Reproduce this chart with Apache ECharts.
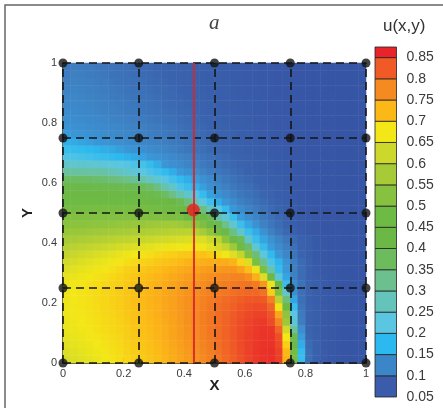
<!DOCTYPE html>
<html>
<head>
<meta charset="utf-8">
<script src="https://cdn.jsdelivr.net/npm/echarts@6/dist/echarts.min.js"></script>
<style>html,body{margin:0;padding:0;background:#fff;}#c{width:443px;height:408px;}</style>
</head>
<body>
<div id="c"></div>
<script>
// cell centres of the contour field (x and y), step 0.025
const xCenters = [0.0125,0.0375,0.0625,0.0875,0.1125,0.1375,0.1625,0.1875,0.2125,0.2375,0.2625,0.2875,0.3125,0.3375,0.3625,0.3875,0.4125,0.4375,0.4625,0.4875,0.5125,0.5375,0.5625,0.5875,0.6125,0.6375,0.6625,0.6875,0.7125,0.7375,0.7625,0.7875,0.8125,0.8375,0.8625,0.8875,0.9125,0.9375,0.9625,0.9875];
const yCenters = xCenters.slice();
// u(x,y), one row per y centre (bottom to top)
const uRows = [
 [0.637,0.644,0.651,0.658,0.665,0.672,0.679,0.686,0.693,0.699,0.705,0.712,0.719,0.728,0.737,0.746,0.755,0.765,0.775,0.785,0.796,0.809,0.821,0.834,0.845,0.855,0.861,0.864,0.85,0.73,0.495,0.19,0.11,0.097,0.088,0.083,0.08,0.077,0.074,0.071],
 [0.646,0.652,0.658,0.664,0.67,0.676,0.682,0.688,0.696,0.702,0.708,0.715,0.722,0.731,0.74,0.749,0.758,0.768,0.778,0.788,0.799,0.812,0.824,0.837,0.848,0.857,0.862,0.864,0.848,0.725,0.49,0.185,0.11,0.097,0.088,0.083,0.08,0.077,0.074,0.071],
 [0.651,0.657,0.663,0.668,0.674,0.68,0.685,0.691,0.699,0.705,0.711,0.718,0.725,0.734,0.743,0.752,0.761,0.771,0.781,0.791,0.802,0.814,0.826,0.838,0.849,0.857,0.861,0.862,0.842,0.70,0.44,0.167,0.107,0.096,0.087,0.083,0.08,0.077,0.074,0.071],
 [0.658,0.663,0.668,0.673,0.679,0.684,0.689,0.694,0.702,0.708,0.714,0.721,0.728,0.737,0.746,0.755,0.764,0.774,0.784,0.794,0.805,0.816,0.828,0.839,0.849,0.856,0.86,0.86,0.835,0.675,0.41,0.152,0.102,0.095,0.087,0.083,0.08,0.077,0.074,0.071],
 [0.663,0.668,0.673,0.677,0.682,0.687,0.691,0.696,0.704,0.71,0.716,0.723,0.73,0.738,0.747,0.755,0.765,0.775,0.785,0.795,0.805,0.816,0.827,0.838,0.847,0.854,0.858,0.857,0.815,0.63,0.31,0.14,0.10,0.093,0.087,0.083,0.08,0.077,0.074,0.071],
 [0.665,0.67,0.675,0.679,0.684,0.689,0.693,0.698,0.706,0.712,0.718,0.725,0.732,0.74,0.749,0.757,0.767,0.776,0.786,0.795,0.805,0.816,0.826,0.837,0.845,0.852,0.854,0.84,0.78,0.56,0.245,0.123,0.10,0.092,0.087,0.083,0.08,0.077,0.074,0.071],
 [0.667,0.672,0.677,0.681,0.686,0.691,0.695,0.70,0.708,0.714,0.72,0.727,0.734,0.742,0.75,0.759,0.768,0.777,0.786,0.795,0.805,0.814,0.824,0.833,0.841,0.846,0.846,0.83,0.745,0.54,0.23,0.12,0.099,0.091,0.086,0.082,0.079,0.076,0.074,0.071],
 [0.668,0.673,0.678,0.683,0.688,0.693,0.697,0.702,0.71,0.716,0.722,0.728,0.735,0.743,0.751,0.759,0.768,0.776,0.785,0.794,0.803,0.811,0.82,0.829,0.835,0.839,0.838,0.815,0.68,0.46,0.19,0.115,0.098,0.091,0.086,0.082,0.079,0.076,0.074,0.071],
 [0.669,0.674,0.679,0.684,0.689,0.694,0.698,0.703,0.711,0.717,0.723,0.729,0.736,0.744,0.751,0.759,0.767,0.775,0.783,0.791,0.799,0.807,0.815,0.822,0.827,0.829,0.826,0.785,0.60,0.345,0.16,0.11,0.096,0.09,0.086,0.082,0.079,0.076,0.074,0.071],
 [0.669,0.674,0.678,0.683,0.688,0.693,0.697,0.702,0.71,0.716,0.722,0.728,0.735,0.742,0.749,0.756,0.764,0.771,0.778,0.785,0.791,0.796,0.802,0.807,0.81,0.81,0.80,0.70,0.51,0.25,0.14,0.11,0.098,0.09,0.086,0.082,0.079,0.076,0.074,0.071],
 [0.668,0.673,0.677,0.682,0.687,0.691,0.696,0.70,0.708,0.714,0.72,0.726,0.732,0.739,0.746,0.753,0.759,0.766,0.772,0.779,0.784,0.788,0.792,0.796,0.798,0.792,0.76,0.665,0.43,0.19,0.137,0.113,0.10,0.092,0.087,0.083,0.08,0.077,0.074,0.071],
 [0.661,0.666,0.671,0.676,0.681,0.686,0.691,0.696,0.705,0.71,0.716,0.722,0.728,0.734,0.741,0.747,0.753,0.759,0.764,0.77,0.775,0.778,0.781,0.782,0.772,0.735,0.645,0.455,0.24,0.16,0.128,0.108,0.097,0.09,0.086,0.082,0.08,0.077,0.074,0.071],
 [0.647,0.653,0.659,0.665,0.671,0.677,0.683,0.689,0.698,0.703,0.709,0.714,0.72,0.726,0.731,0.737,0.743,0.747,0.752,0.756,0.759,0.762,0.762,0.748,0.72,0.665,0.50,0.29,0.185,0.15,0.125,0.108,0.097,0.088,0.084,0.082,0.08,0.077,0.074,0.071],
 [0.632,0.638,0.645,0.651,0.658,0.664,0.671,0.677,0.686,0.69,0.696,0.701,0.708,0.713,0.718,0.723,0.729,0.732,0.735,0.737,0.738,0.737,0.73,0.695,0.645,0.50,0.32,0.21,0.172,0.145,0.123,0.107,0.096,0.086,0.083,0.081,0.079,0.077,0.074,0.071],
 [0.614,0.621,0.627,0.634,0.641,0.647,0.654,0.661,0.669,0.675,0.681,0.686,0.692,0.697,0.701,0.706,0.709,0.712,0.714,0.706,0.69,0.672,0.648,0.615,0.52,0.35,0.235,0.18,0.148,0.132,0.116,0.101,0.093,0.085,0.083,0.081,0.079,0.077,0.074,0.071],
 [0.594,0.60,0.606,0.611,0.617,0.622,0.628,0.634,0.64,0.645,0.65,0.655,0.66,0.665,0.669,0.673,0.677,0.678,0.67,0.654,0.634,0.613,0.565,0.47,0.36,0.247,0.186,0.153,0.138,0.124,0.111,0.099,0.092,0.085,0.083,0.081,0.079,0.076,0.074,0.071],
 [0.573,0.577,0.582,0.586,0.591,0.595,0.60,0.604,0.609,0.613,0.618,0.622,0.628,0.632,0.636,0.64,0.644,0.646,0.643,0.622,0.604,0.535,0.46,0.385,0.255,0.19,0.16,0.143,0.129,0.117,0.106,0.097,0.091,0.085,0.083,0.081,0.078,0.076,0.074,0.071],
 [0.551,0.554,0.557,0.56,0.563,0.567,0.571,0.574,0.578,0.582,0.585,0.589,0.592,0.596,0.60,0.603,0.605,0.595,0.575,0.54,0.488,0.42,0.335,0.255,0.192,0.165,0.143,0.126,0.114,0.104,0.097,0.09,0.085,0.083,0.081,0.08,0.078,0.076,0.074,0.071],
 [0.531,0.533,0.535,0.537,0.539,0.542,0.545,0.548,0.551,0.554,0.557,0.561,0.565,0.568,0.57,0.565,0.553,0.535,0.508,0.46,0.404,0.33,0.25,0.192,0.161,0.143,0.128,0.117,0.108,0.10,0.094,0.088,0.084,0.082,0.08,0.079,0.077,0.076,0.074,0.071],
 [0.513,0.514,0.514,0.515,0.515,0.516,0.516,0.516,0.516,0.515,0.514,0.513,0.511,0.508,0.505,0.50,0.475,0.448,0.42,0.385,0.295,0.24,0.19,0.152,0.14,0.13,0.119,0.112,0.104,0.098,0.092,0.087,0.084,0.082,0.08,0.079,0.077,0.076,0.074,0.071],
 [0.492,0.492,0.493,0.493,0.494,0.494,0.495,0.495,0.495,0.494,0.493,0.491,0.488,0.482,0.476,0.465,0.435,0.408,0.34,0.275,0.228,0.185,0.149,0.139,0.129,0.12,0.113,0.106,0.10,0.095,0.09,0.085,0.083,0.081,0.08,0.078,0.077,0.076,0.074,0.071],
 [0.47,0.47,0.47,0.47,0.47,0.47,0.469,0.469,0.468,0.466,0.463,0.459,0.454,0.445,0.432,0.40,0.345,0.285,0.233,0.195,0.166,0.147,0.137,0.126,0.119,0.113,0.107,0.102,0.097,0.093,0.088,0.084,0.082,0.081,0.079,0.078,0.077,0.076,0.074,0.071],
 [0.455,0.455,0.454,0.453,0.451,0.448,0.445,0.441,0.437,0.429,0.42,0.41,0.397,0.37,0.333,0.295,0.255,0.215,0.185,0.156,0.144,0.135,0.126,0.118,0.113,0.108,0.102,0.098,0.094,0.09,0.086,0.083,0.081,0.08,0.079,0.078,0.077,0.076,0.074,0.071],
 [0.415,0.415,0.414,0.413,0.411,0.409,0.406,0.403,0.40,0.389,0.377,0.366,0.336,0.293,0.255,0.212,0.19,0.17,0.154,0.142,0.134,0.125,0.118,0.113,0.109,0.103,0.099,0.096,0.092,0.089,0.085,0.083,0.081,0.08,0.079,0.078,0.077,0.076,0.074,0.071],
 [0.37,0.369,0.367,0.364,0.36,0.354,0.347,0.338,0.327,0.314,0.292,0.268,0.245,0.222,0.199,0.18,0.166,0.152,0.143,0.135,0.126,0.118,0.113,0.108,0.104,0.10,0.097,0.094,0.091,0.088,0.085,0.083,0.081,0.08,0.079,0.078,0.077,0.076,0.074,0.071],
 [0.309,0.307,0.305,0.303,0.301,0.30,0.286,0.271,0.257,0.242,0.227,0.212,0.197,0.182,0.167,0.151,0.144,0.137,0.129,0.122,0.117,0.113,0.108,0.104,0.10,0.097,0.094,0.092,0.089,0.087,0.084,0.082,0.081,0.08,0.079,0.078,0.077,0.076,0.074,0.071],
 [0.255,0.254,0.252,0.249,0.245,0.24,0.234,0.227,0.219,0.211,0.203,0.185,0.166,0.149,0.142,0.136,0.13,0.125,0.12,0.116,0.112,0.107,0.104,0.101,0.098,0.095,0.093,0.09,0.088,0.086,0.084,0.082,0.081,0.08,0.079,0.078,0.077,0.076,0.074,0.071],
 [0.214,0.21,0.205,0.20,0.194,0.188,0.181,0.175,0.169,0.163,0.157,0.149,0.145,0.14,0.135,0.13,0.125,0.12,0.116,0.112,0.108,0.105,0.101,0.098,0.096,0.093,0.091,0.089,0.087,0.085,0.083,0.082,0.081,0.08,0.079,0.078,0.077,0.076,0.074,0.071],
 [0.19,0.186,0.182,0.177,0.172,0.167,0.162,0.156,0.149,0.145,0.142,0.138,0.134,0.13,0.126,0.121,0.117,0.113,0.11,0.106,0.103,0.101,0.098,0.096,0.094,0.092,0.09,0.088,0.086,0.085,0.083,0.082,0.081,0.08,0.079,0.078,0.077,0.076,0.074,0.071],
 [0.168,0.164,0.16,0.155,0.149,0.146,0.144,0.141,0.138,0.135,0.132,0.129,0.127,0.124,0.121,0.118,0.115,0.111,0.108,0.105,0.102,0.099,0.097,0.095,0.093,0.091,0.089,0.087,0.086,0.084,0.083,0.082,0.081,0.08,0.079,0.078,0.077,0.076,0.074,0.071],
 [0.152,0.149,0.146,0.144,0.141,0.139,0.136,0.134,0.131,0.129,0.127,0.124,0.122,0.119,0.116,0.113,0.11,0.108,0.105,0.102,0.10,0.098,0.096,0.094,0.092,0.09,0.088,0.087,0.085,0.084,0.083,0.082,0.081,0.08,0.079,0.078,0.077,0.076,0.074,0.071],
 [0.145,0.143,0.141,0.139,0.137,0.135,0.133,0.131,0.129,0.127,0.125,0.122,0.12,0.117,0.114,0.111,0.108,0.105,0.103,0.10,0.098,0.096,0.094,0.092,0.091,0.089,0.088,0.086,0.085,0.084,0.083,0.082,0.081,0.08,0.079,0.078,0.077,0.076,0.074,0.071],
 [0.14,0.139,0.137,0.135,0.133,0.131,0.129,0.127,0.125,0.123,0.12,0.118,0.116,0.113,0.111,0.108,0.106,0.104,0.101,0.099,0.097,0.095,0.093,0.091,0.09,0.088,0.087,0.086,0.085,0.084,0.083,0.082,0.081,0.08,0.079,0.078,0.077,0.076,0.074,0.071],
 [0.136,0.135,0.134,0.132,0.13,0.128,0.126,0.124,0.121,0.119,0.117,0.115,0.113,0.11,0.108,0.106,0.104,0.101,0.099,0.097,0.095,0.094,0.092,0.09,0.089,0.087,0.086,0.085,0.084,0.083,0.082,0.081,0.08,0.08,0.079,0.078,0.077,0.076,0.074,0.071],
 [0.133,0.133,0.132,0.13,0.128,0.126,0.124,0.122,0.119,0.117,0.115,0.113,0.111,0.108,0.106,0.104,0.102,0.10,0.098,0.096,0.094,0.093,0.091,0.09,0.088,0.087,0.086,0.085,0.084,0.083,0.082,0.081,0.08,0.079,0.079,0.078,0.077,0.076,0.074,0.071],
 [0.13,0.131,0.13,0.128,0.126,0.124,0.121,0.119,0.117,0.115,0.113,0.111,0.109,0.106,0.104,0.102,0.10,0.098,0.096,0.095,0.093,0.092,0.09,0.089,0.088,0.087,0.086,0.085,0.084,0.083,0.082,0.081,0.08,0.079,0.078,0.078,0.077,0.076,0.074,0.071],
 [0.128,0.129,0.128,0.126,0.124,0.122,0.119,0.117,0.115,0.113,0.111,0.109,0.107,0.105,0.103,0.101,0.099,0.097,0.095,0.094,0.092,0.091,0.09,0.088,0.087,0.086,0.085,0.084,0.083,0.083,0.082,0.081,0.08,0.079,0.078,0.077,0.077,0.076,0.074,0.071],
 [0.125,0.127,0.126,0.124,0.122,0.12,0.117,0.115,0.113,0.111,0.109,0.107,0.105,0.103,0.101,0.10,0.098,0.096,0.094,0.093,0.091,0.09,0.089,0.088,0.087,0.086,0.085,0.084,0.083,0.082,0.081,0.081,0.08,0.079,0.078,0.077,0.076,0.075,0.074,0.071],
 [0.123,0.125,0.124,0.122,0.12,0.118,0.115,0.113,0.111,0.109,0.107,0.105,0.103,0.101,0.10,0.098,0.097,0.095,0.094,0.092,0.091,0.09,0.089,0.088,0.087,0.086,0.085,0.084,0.083,0.082,0.081,0.08,0.079,0.079,0.078,0.077,0.076,0.075,0.074,0.071],
 [0.121,0.123,0.122,0.12,0.118,0.116,0.114,0.112,0.11,0.108,0.106,0.104,0.102,0.10,0.099,0.097,0.096,0.094,0.093,0.092,0.091,0.09,0.089,0.088,0.087,0.086,0.085,0.084,0.083,0.082,0.081,0.08,0.079,0.078,0.078,0.077,0.076,0.075,0.074,0.071]
];
// dashed mesh lines and nodes
const meshLines = [0, 0.25, 0.5, 0.75, 1];
// probe line and probe point
const probeX = 0.43;
const probePoint = [0.43, 0.51];
// colour bar levels and band colours
const levels = [0.05,0.1,0.15,0.2,0.25,0.3,0.35,0.4,0.45,0.5,0.55,0.6,0.65,0.7,0.75,0.8,0.85];
const levelTop = 0.875;
const bandColors = ['#3a5cab','#3a86c8','#2cb9ef','#5ac6e2','#64c4bc','#6cc08e','#6cbb5c','#6cb846','#6dba44','#86c13f','#a6cb37','#ccd82b','#f3e717','#fcb817','#f58a20','#ef5a26','#e8232a'];
// colour ramp of the flooded field (style)
const fieldStops = [[0.025,'#33509e'],[0.08,'#3756a6'],[0.1,'#3a63ae'],[0.125,'#3e80c2'],[0.15,'#3a98d8'],[0.175,'#2cb9ef'],[0.225,'#5ac6e2'],[0.275,'#64c4bc'],[0.325,'#6cc08e'],[0.375,'#6cbb5c'],[0.425,'#6cb846'],[0.475,'#6dba44'],[0.525,'#86c13f'],[0.575,'#a6cb37'],[0.625,'#ccd82b'],[0.675,'#f3e717'],[0.725,'#fcb817'],[0.775,'#f58a20'],[0.825,'#ef5a26'],[0.875,'#e8232a']];

const rampMin = fieldStops[0][0], rampMax = fieldStops[fieldStops.length - 1][0];
const rampColors = [];
for (let k = 0; k <= 170; k++) {
  const v = rampMin + (rampMax - rampMin) * k / 170;
  let s = 0;
  while (s < fieldStops.length - 2 && v > fieldStops[s + 1][0]) s++;
  const a = fieldStops[s], b = fieldStops[s + 1];
  const t = Math.max(0, Math.min(1, (v - a[0]) / (b[0] - a[0])));
  rampColors.push(echarts.color.lerp(t, [a[1], b[1]]));
}

const heatData = [];
uRows.forEach((row, j) => row.forEach((v, i) => heatData.push([i, j, v])));
const nodes = [];
meshLines.forEach(x => meshLines.forEach(y => nodes.push([x, y])));
const bandData = levels.map((lo, k) => [lo, k + 1 < levels.length ? levels[k + 1] : levelTop, k]);

const chart = echarts.init(document.getElementById('c'), null, {renderer: 'canvas'});
const plotBox = {left: 63, top: 63, width: 303, height: 300, outerBoundsMode: 'none'};
const labelFont = {fontFamily: 'Liberation Sans, Arial, sans-serif', color: '#3a3a3a'};
const nameFont = {fontFamily: 'Liberation Sans, Arial, sans-serif', fontWeight: 'bold', fontSize: 15, color: '#222'};
chart.setOption({
  animation: false,
  backgroundColor: '#fff',
  title: {text: 'a', left: 204, top: 8,
    textStyle: {fontFamily: 'Liberation Serif, Times New Roman, serif', fontStyle: 'italic', fontWeight: 'normal', fontSize: 21, color: '#444'}},
  graphic: [
    {type: 'rect', shape: {x: 5, y: 5, width: 460, height: 460}, style: {fill: 'none', stroke: '#666', lineWidth: 1.5}, z: -1},
    {type: 'text', left: 383, top: 18, style: {text: 'u(x,y)', font: '17px Liberation Sans, Arial, sans-serif', fill: '#333'}}
  ],
  grid: [
    Object.assign({}, plotBox),
    Object.assign({}, plotBox),
    {left: 375, top: 47, width: 21.5, height: 350, outerBoundsMode: 'none'}
  ],
  visualMap: {show: false, seriesIndex: 0, type: 'continuous', min: rampMin, max: rampMax,
    inRange: {color: rampColors}},
  xAxis: [
    {gridIndex: 0, type: 'category', data: xCenters, show: false},
    {gridIndex: 1, type: 'value', min: 0, max: 1, interval: 0.2,
      name: 'X', nameLocation: 'middle', nameGap: 15, nameMoveOverlap: false, nameTextStyle: nameFont,
      axisLine: {lineStyle: {color: '#111', width: 1.5}},
      axisTick: {inside: true, length: 5, lineStyle: {color: '#111', width: 1.2}},
      minorTick: {show: true, splitNumber: 4, length: 3, lineStyle: {color: '#111', width: 1}},
      splitLine: {show: false},
      axisLabel: Object.assign({fontSize: 11, margin: 5}, labelFont)},
    {gridIndex: 2, type: 'value', min: 0, max: 1, show: false}
  ],
  yAxis: [
    {gridIndex: 0, type: 'category', data: yCenters, show: false},
    {gridIndex: 1, type: 'value', min: 0, max: 1, interval: 0.2,
      name: 'Y', nameLocation: 'middle', nameGap: 28, nameMoveOverlap: false, nameTextStyle: nameFont,
      axisLine: {lineStyle: {color: '#111', width: 1.5}},
      axisTick: {inside: true, length: 5, lineStyle: {color: '#111', width: 1.2}},
      minorTick: {show: true, splitNumber: 4, length: 3, lineStyle: {color: '#111', width: 1}},
      splitLine: {show: false},
      axisLabel: Object.assign({fontSize: 11, margin: 6}, labelFont)},
    {gridIndex: 2, type: 'value', min: 0.05, max: levelTop, interval: 0.05, position: 'right',
      axisLine: {show: false}, axisTick: {show: false}, splitLine: {show: false},
      axisLabel: Object.assign({fontSize: 14, margin: 10, showMaxLabel: false}, labelFont)}
  ],
  series: [
    {type: 'heatmap', xAxisIndex: 0, yAxisIndex: 0, data: heatData, itemStyle: {borderWidth: 0}},
    {type: 'line', xAxisIndex: 1, yAxisIndex: 1, data: [], silent: true,
      markLine: {silent: true, symbol: ['none', 'none'], label: {show: false},
        lineStyle: {type: [8, 5], color: '#151515', width: 1.6},
        data: meshLines.map(v => ({xAxis: v})).concat(meshLines.map(v => ({yAxis: v})))}},
    {type: 'line', xAxisIndex: 1, yAxisIndex: 1, data: [], silent: true,
      markLine: {silent: true, symbol: ['none', 'none'], label: {show: false},
        lineStyle: {type: 'solid', color: '#d9262b', width: 1.8},
        data: [{xAxis: probeX}]}},
    {type: 'scatter', xAxisIndex: 1, yAxisIndex: 1, data: nodes, symbolSize: 9,
      itemStyle: {color: '#141414'}, clip: false},
    {type: 'scatter', xAxisIndex: 1, yAxisIndex: 1, data: [probePoint], symbolSize: 13,
      itemStyle: {color: '#ec1c24'}},
    {type: 'custom', xAxisIndex: 2, yAxisIndex: 2, data: bandData,
      encode: {y: [0, 1]},
      renderItem: function (params, api) {
        const lo = api.value(0), hi = api.value(1);
        const p1 = api.coord([0, hi]);
        const p2 = api.coord([1, lo]);
        return {type: 'rect', shape: {x: p1[0], y: p1[1], width: p2[0] - p1[0], height: p2[1] - p1[1]},
          style: {fill: bandColors[api.value(2)], stroke: '#222', lineWidth: 0.8}};
      }}
  ]
});
</script>
</body>
</html>
